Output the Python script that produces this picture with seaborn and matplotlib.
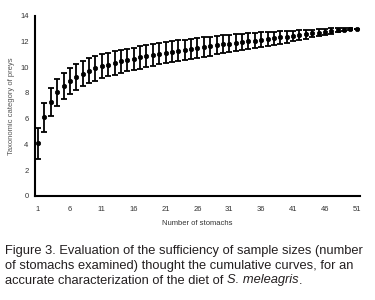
import matplotlib
matplotlib.use('Agg')
import matplotlib.pyplot as plt
import seaborn as sns
import pandas as pd

# 위 그림에서 읽은 값 (누적 곡선)
stomachs = list(range(1, 52))
mean_taxa = [4.1, 6.1, 7.3, 8.05, 8.55, 8.95, 9.25, 9.5, 9.7, 9.9,
             10.05, 10.2, 10.32, 10.45, 10.55, 10.65, 10.75, 10.85, 10.95, 11.05,
             11.13, 11.2, 11.28, 11.35, 11.42, 11.5, 11.56, 11.63, 11.7, 11.76,
             11.82, 11.88, 11.94, 12.0, 12.06, 12.12, 12.18, 12.24, 12.3, 12.36,
             12.42, 12.5, 12.56, 12.62, 12.68, 12.74, 12.8, 12.85, 12.9, 12.94,
             12.97]
sd_taxa = [1.2, 1.1, 1.1, 1.05, 1.03, 1.0, 1.0, 0.98, 0.97, 0.95,
           0.93, 0.92, 0.9, 0.9, 0.88, 0.87, 0.86, 0.85, 0.84, 0.83,
           0.82, 0.81, 0.8, 0.79, 0.78, 0.77, 0.75, 0.74, 0.72, 0.7,
           0.68, 0.66, 0.64, 0.62, 0.6, 0.57, 0.54, 0.51, 0.48, 0.45,
           0.42, 0.38, 0.34, 0.3, 0.27, 0.23, 0.2, 0.16, 0.12, 0.08,
           0.0]
xticks = list(range(1, 52, 5))
yticks = list(range(0, 15, 2))

df = pd.DataFrame({'n': stomachs, 'taxa': mean_taxa, 'sd': sd_taxa})

sns.set_style('white')
plt.rcParams['font.family'] = ['Liberation Sans Narrow', 'Liberation Sans', 'DejaVu Sans']

fig = plt.figure(figsize=(3.75, 3.0), dpi=100)
ax = fig.add_axes([0.093, 0.347, 0.867, 0.601])

ax.errorbar(df['n'], df['taxa'], yerr=df['sd'], fmt='none',
            ecolor='black', elinewidth=1.3, capsize=2.2, capthick=1.3)
sns.scatterplot(data=df, x='n', y='taxa', ax=ax, color='black',
                s=10, edgecolor='black', linewidth=0.5, zorder=3)

ax.set_xlim(0.5, 51.5)
ax.set_ylim(0, 14)
ax.set_xticks(xticks)
ax.set_yticks(yticks)
ax.tick_params(axis='both', direction='out', length=2.5, width=1.2,
               labelsize=5.5, colors='black', labelcolor='#333333', pad=2)
ax.tick_params(axis='x', pad=5)
sns.despine(ax=ax)
for side in ['left', 'bottom']:
    ax.spines[side].set_linewidth(1.5)
    ax.spines[side].set_color('black')

ax.set_xlabel('Number of stomachs', fontsize=5.5, color='#333333', labelpad=5)
ax.set_ylabel('Taxonomic category of preys', fontsize=5.5, color='#555555', labelpad=4)

# 캡션
cap_size = 9.3
cap_color = '#231f20'
fig.text(0.013, 0.152, 'Figure 3. Evaluation of the sufficiency of sample sizes (number',
         fontsize=cap_size, color=cap_color, va='baseline')
fig.text(0.013, 0.103, 'of stomachs examined) thought the cumulative curves, for an',
         fontsize=cap_size, color=cap_color, va='baseline')
t = fig.text(0.013, 0.055, 'accurate characterization of the diet of ',
             fontsize=cap_size, color=cap_color, va='baseline')
fig.canvas.draw()
bb = t.get_window_extent().transformed(fig.transFigure.inverted())
t2 = fig.text(bb.x1, 0.055, 'S. meleagris', fontsize=cap_size,
              color=cap_color, style='italic', va='baseline')
fig.canvas.draw()
bb2 = t2.get_window_extent().transformed(fig.transFigure.inverted())
fig.text(bb2.x1, 0.055, '.', fontsize=cap_size, color=cap_color, va='baseline')

fig.savefig('out.png', dpi=100)
